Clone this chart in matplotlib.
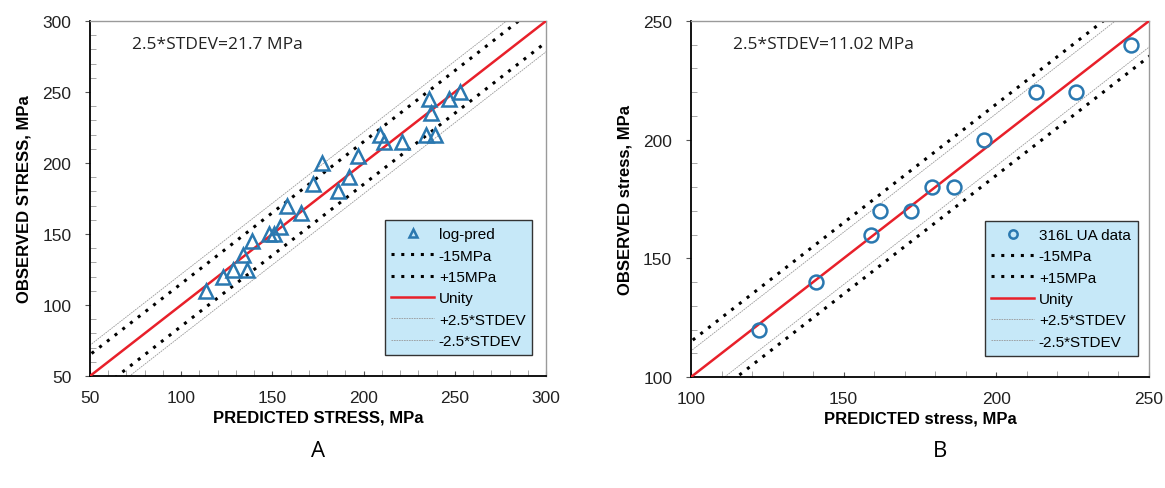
"""
Observed vs predicted stress, two panels (A: log-pred, B: 316L UA data).
"""
import matplotlib
matplotlib.use("Agg")
import matplotlib.pyplot as plt
import numpy as np
from matplotlib.ticker import MultipleLocator

# panel A data (MPa)
pred_a = [113.5, 123, 128.5, 136, 134, 139, 148, 151, 154, 158, 165.5, 172, 177,
          186, 192, 197, 209, 211, 221, 234, 239, 237, 236, 247, 253]
obs_a = [110, 120, 125, 125, 135, 145, 150, 150, 155, 170, 165, 185, 200,
         180, 190, 205, 220, 215, 215, 220, 220, 235, 245, 245, 250]
stdev_a = 21.7

# panel B data (MPa)
pred_b = [122.4, 141, 159, 162, 172, 179, 186, 196, 213, 226, 244]
obs_b = [120, 140, 160, 170, 170, 180, 180, 200, 220, 220, 240]
stdev_b = 11.02

plt.rcParams["font.family"] = ["Liberation Sans", "DejaVu Sans"]

BLUE = "#2a78b0"
RED = "#e8202a"
LEGEND_BG = "#c6e8f8"


def draw_panel(ax, pred, obs, stdev, lim, marker, data_label, xlabel, ylabel, note):
    lo, hi = lim
    x = np.array([lo - 50, hi + 50], dtype=float)
    ax.plot(pred, obs, linestyle="none", marker=marker, markersize=10,
            markerfacecolor="none", markeredgecolor=BLUE, markeredgewidth=1.8,
            label=data_label, zorder=5)
    ax.plot(x, x - 15, color="black", linestyle=(0, (1, 2.2)), linewidth=2.2,
            label="-15MPa")
    ax.plot(x, x + 15, color="black", linestyle=(0, (1, 2.2)), linewidth=2.2,
            label="+15MPa")
    ax.plot(x, x, color=RED, linewidth=1.8, label="Unity", zorder=4)
    ax.plot(x, x + stdev, color="#999999", linestyle=(0, (2, 1)), linewidth=0.6,
            label="+2.5*STDEV")
    ax.plot(x, x - stdev, color="#999999", linestyle=(0, (2, 1)), linewidth=0.6,
            label="-2.5*STDEV")

    ax.set_xlim(lo, hi)
    ax.set_ylim(lo, hi)
    ax.xaxis.set_major_locator(MultipleLocator(50))
    ax.yaxis.set_major_locator(MultipleLocator(50))
    ax.xaxis.set_minor_locator(MultipleLocator(10))
    ax.yaxis.set_minor_locator(MultipleLocator(10))
    ax.tick_params(axis="both", which="major", labelsize=12.5, length=3.5,
                   width=0.8, color="#555555", labelcolor="#222222")
    ax.tick_params(axis="y", which="major", direction="out", pad=10)
    ax.tick_params(axis="x", which="major", direction="in", pad=10)
    ax.tick_params(axis="both", which="minor", direction="in", length=4,
                   width=0.6, color="#999999")
    for side in ("top", "right"):
        ax.spines[side].set_color("#9a9a9a")
        ax.spines[side].set_linewidth(1.0)
    for side in ("left", "bottom"):
        ax.spines[side].set_color("black")
        ax.spines[side].set_linewidth(1.3)

    ax.set_xlabel(xlabel, fontsize=12, fontweight="bold", labelpad=3)
    ax.set_ylabel(ylabel, fontsize=12, fontweight="bold", labelpad=8)
    ax.text(0.092, 0.935, note, transform=ax.transAxes, fontsize=12.5,
            family=["Open Sans", "DejaVu Sans"], va="center", ha="left",
            color="#222222")

    leg = ax.legend(loc="center", bbox_to_anchor=(0.633, 0.059, 0.35, 0.38),
                    frameon=True, fancybox=False, fontsize=11, markerscale=0.6,
                    labelspacing=0.48, handlelength=2.8, handletextpad=0.3,
                    borderpad=0.45)
    frame = leg.get_frame()
    frame.set_facecolor(LEGEND_BG)
    frame.set_edgecolor("#333333")
    frame.set_linewidth(1.0)
    frame.set_alpha(1.0)


fig = plt.figure(figsize=(11.65, 4.89), dpi=100)
ax_a = fig.add_axes([90 / 1165, 1 - 377 / 489, 456 / 1165, 355 / 489])
ax_b = fig.add_axes([691 / 1165, 1 - 378 / 489, 458 / 1165, 356 / 489])

draw_panel(ax_a, pred_a, obs_a, stdev_a, (50, 300), "^", "log-pred",
           "PREDICTED STRESS, MPa", "OBSERVED STRESS, MPa", "2.5*STDEV=21.7 MPa")
draw_panel(ax_b, pred_b, obs_b, stdev_b, (100, 250), "o", "316L UA data",
           "PREDICTED stress, MPa", "OBSERVED stress, MPa", "2.5*STDEV=11.02 MPa")

fig.text(318 / 1165, 1 - 452 / 489, "A", fontsize=16,
         family=["Open Sans", "DejaVu Sans"], ha="center", va="center")
fig.text(940 / 1165, 1 - 452 / 489, "B", fontsize=16,
         family=["Open Sans", "DejaVu Sans"], ha="center", va="center")

fig.savefig("out.png", dpi=100)
